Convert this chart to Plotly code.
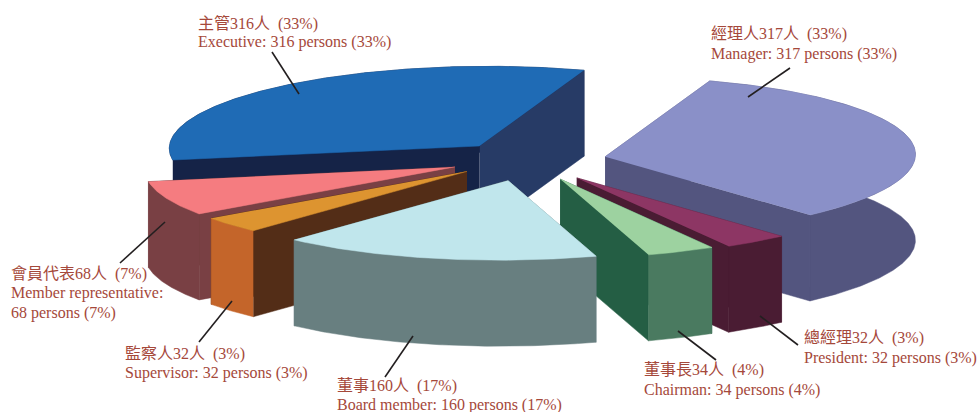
import numpy as np
import plotly.graph_objects as go

# ---- data (clockwise from the start angle) ----
names_zh = ["經理人", "總經理", "董事長", "董事", "監察人", "會員代表", "主管"]
names_en = ["Manager", "President", "Chairman", "Board member", "Supervisor", "Member representative", "Executive"]
values = [317, 32, 34, 160, 32, 68, 316]
percents = [33, 3, 4, 17, 3, 7, 33]

top_colors = ["#8a90c8", "#8d3664", "#9dd2a0", "#c0e6ec", "#dd9430", "#f57c80", "#1f6bb5"]
arc_colors = ["#53557f", "#4a1c33", "#4a7a60", "#687f80", "#c4652a", "#794044", "#152347"]
start_face_colors = ["#53557f", "#4a1c33", "#245e44", "#687f80", "#532d17", "#794044", "#152347"]
end_face_colors = ["#53557f", "#4a1c33", "#245e44", "#687f80", "#532d17", "#794044", "#273b66"]
draw_order = [6, 0, 5, 4, 1, 2, 3]

# ---- projection of the pie plane on the page ----
CENTER = np.array([529.0, 161.0])
AXIS_A = np.array([102.0, -76.0])
AXIS_B = np.array([293.0, 24.0])
START_DEG = 0.5
EXPLODE = 0.25
DEPTH = 86.0
# small per-slice corrections standing in for the original's perspective
PERSPECTIVE_NUDGE = {1: (3, 1), 2: (1, 0), 3: (-3, 0), 4: (-3, -3), 5: (-2, -2)}


def proj(deg):
    r = np.radians(deg + START_DEG)
    return np.outer(np.cos(r), AXIS_A) + np.outer(np.sin(r), AXIS_B)


fig = go.Figure()


def poly(points, color):
    fig.add_trace(go.Scatter(x=points[:, 0], y=points[:, 1], mode="lines", fill="toself",
                             fillcolor=color, line=dict(color=color, width=0.5),
                             hoverinfo="skip", showlegend=False))


def extrude(edge):
    return np.vstack([edge, edge[::-1] + [0, DEPTH]])


edges = np.concatenate([[0], np.cumsum(values)]) / sum(values) * 360
for i in draw_order:
    a0, a1 = edges[i], edges[i + 1]
    mid = (a0 + a1) / 2
    apex = CENTER + EXPLODE * proj(np.array([mid]))[0] + np.array(PERSPECTIVE_NUDGE.get(i, (0, 0)))
    arc = apex + proj(np.linspace(a0, a1, max(int(a1 - a0) * 2, 6)))
    faces = [
        (extrude(np.vstack([apex, arc[0]])), start_face_colors[i]),
        (extrude(np.vstack([apex, arc[-1]])), end_face_colors[i]),
        (extrude(arc), arc_colors[i]),
    ]
    faces.sort(key=lambda f: f[0][:, 1].mean())
    for pts, col in faces:
        poly(pts, col)
    poly(np.vstack([apex, arc]), top_colors[i])

# ---- leader lines ----
leaders = [
    ((272, 52), (299, 94)), ((790, 68), (748, 97)), ((165, 222), (120, 263)),
    ((232, 301), (199, 342)), ((413, 336), (385, 377)), ((678, 331), (716, 360)),
    ((760, 316), (798, 345)),
]
for p, q in leaders:
    fig.add_shape(type="line", x0=p[0], y0=p[1], x1=q[0], y1=q[1], xref="x", yref="y",
                  line=dict(color="#231f20", width=1.6))

# ---- labels ----
FONT = dict(family="'Liberation Serif', 'Noto Sans CJK TC', serif", size=16, color="#a5483a")
label_pos = {0: (709, 34, 54), 1: (802, 338, 358), 2: (642, 370, 390), 3: (335, 386, 405),
             4: (123, 354, 373), 6: (196, 23, 42)}
GAP = "\u00a0\u00a0"
for i, (x, y1, y2) in label_pos.items():
    fig.add_annotation(x=x, y=y1, text=f"{names_zh[i]}{values[i]}人{GAP}({percents[i]}%)", showarrow=False,
                       xanchor="left", yanchor="middle", font=FONT)
    fig.add_annotation(x=x, y=y2, text=f"{names_en[i]}: {values[i]} persons ({percents[i]}%)", showarrow=False,
                       xanchor="left", yanchor="middle", font=FONT)
fig.add_annotation(x=9, y=274, text=f"{names_zh[5]}{values[5]}人{GAP}({percents[5]}%)", showarrow=False,
                   xanchor="left", yanchor="middle", font=FONT)
fig.add_annotation(x=9, y=293, text=f"{names_en[5]}:", showarrow=False, xanchor="left", yanchor="middle", font=FONT)
fig.add_annotation(x=9, y=313, text=f"{values[5]} persons ({percents[5]}%)", showarrow=False,
                   xanchor="left", yanchor="middle", font=FONT)

fig.update_layout(width=978, height=412, margin=dict(l=0, r=0, t=0, b=0), paper_bgcolor="white",
                  plot_bgcolor="white", showlegend=False,
                  xaxis=dict(range=[0, 978], visible=False, fixedrange=True),
                  yaxis=dict(range=[412, 0], visible=False, fixedrange=True))
fig.write_html("out.html", post_script="document.body.style.margin='0';",
               config={"displayModeBar": False})
